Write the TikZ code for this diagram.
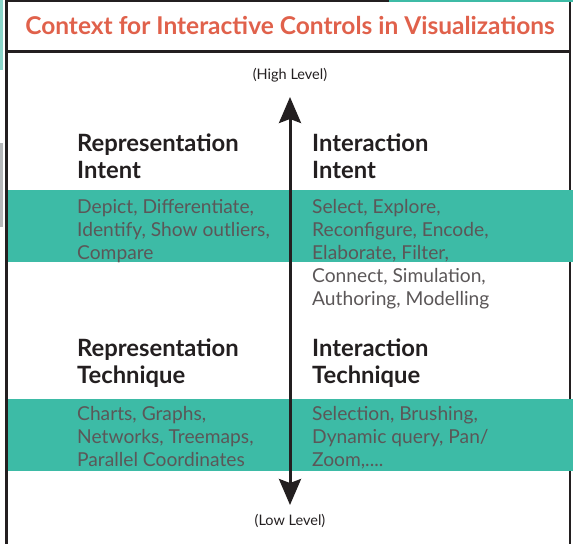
\documentclass[tikz,border=0pt]{standalone}
\usepackage{fontspec}
\setmainfont{Lato}
\usetikzlibrary{arrows.meta}
\definecolor{TitleRed}{HTML}{E0614B}
\definecolor{BandTeal}{HTML}{3DBBA6}
\definecolor{InkDark}{HTML}{231F20}
\definecolor{InkGrey}{HTML}{5B5758}
\definecolor{EdgeGrey}{HTML}{B5B8BA}
\tikzset{>={Stealth[length=26pt,width=22pt,inset=4pt]},
 heading/.style={anchor=base west,align=left,inner sep=0pt,text=InkDark,
 font=\bfseries\fontsize{23.8}{26.8}\selectfont},
 body/.style={anchor=base west,align=left,inner sep=0pt,text=InkGrey,
 font=\fontsize{19.2}{23}\selectfont},
 level/.style={inner sep=0pt,text=InkDark,font=\fontsize{14.5}{16}\selectfont},
 band/.style={fill=BandTeal,draw=none}}
\begin{document}
\begin{tikzpicture}[x=1pt,y=-1pt]
\useasboundingbox (0,0) rectangle (573,544);
% screen edges
\fill[BandTeal!60] (0,0) rectangle (2.5,70);
\fill[EdgeGrey] (0,143) rectangle (3,227);
\draw[InkDark,line width=1.2pt] (570,0)--(570,544);
\draw[InkDark,line width=2pt] (7,1)--(389,1);
\draw[BandTeal,line width=2pt] (389,1)--(573,1);
% bands
\fill[band] (7,190) rectangle (573,262);
\fill[band] (7,399) rectangle (573,471);
\draw[InkDark,line width=3pt] (6.5,0)--(6.5,544);
\draw[InkDark,line width=2.5pt] (7,51.5)--(570,51.5);
% title
\node[inner sep=0pt,text=TitleRed,font=\bfseries\fontsize{24.5}{28}\selectfont]
 (title) at (290,25) {Context for Interactive Controls in Visualizations};
% axis
\node[level] (high) at (290,75) {(High Level)};
\node[level] (low) at (290,521) {(Low Level)};
\coordinate (top) at (290,97);
\coordinate (bottom) at (290,505);
\draw[<->,InkDark,line width=3pt] (top)--(bottom);
% columns (anchored at the baseline of the last line)
\node[heading] (repint) at (77,178) {Representation\\Intent};
\node[heading] (actint) at (312,178) {Interaction\\Intent};
\node[body] (repintlist) at (77,259) {Depict, Differentiate,\\Identify, Show outliers,\\Compare};
\node[body] (actintlist) at (312,305) {Select, Explore,\\Reconfigure, Encode,\\Elaborate, Filter,\\Connect, Simulation,\\Authoring, Modelling};
\node[heading] (reptech) at (77,383) {Representation\\Technique};
\node[heading] (acttech) at (312,383) {Interaction\\Technique};
\node[body] (reptechlist) at (77,466) {Charts, Graphs,\\Networks, Treemaps,\\Parallel Coordinates};
\node[body] (acttechlist) at (312,466) {Selection, Brushing,\\Dynamic query, Pan/\\Zoom,....};
\end{tikzpicture}
\end{document}
